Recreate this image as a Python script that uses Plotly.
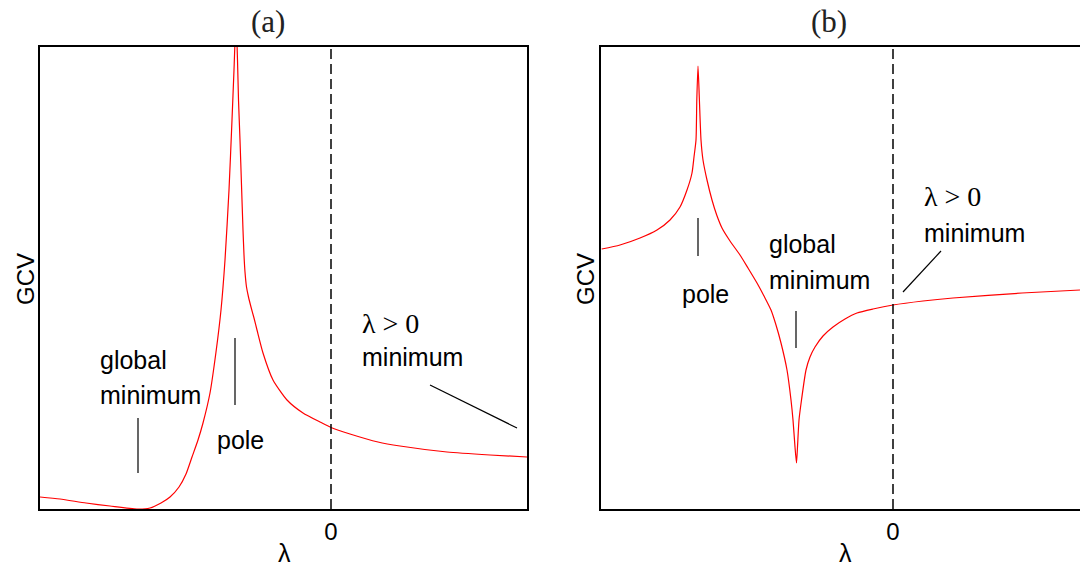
import plotly.graph_objects as go

# GCV as a function of the regularisation parameter lambda (arbitrary units)
lam_a = [-2.91, -2.71, -2.45, -2.21, -1.94, -1.81, -1.70, -1.61, -1.52, -1.45,
         -1.39, -1.33, -1.28, -1.21, -1.15, -1.10, -1.06, -1.02, -0.99, -0.97,
         -0.95, -0.935, -0.925, -0.91, -0.895, -0.88, -0.87, -0.86, -0.845, -0.825,
         -0.80, -0.77, -0.74, -0.68, -0.58, -0.44, -0.28, -0.11, 0.0, 0.19,
         0.47, 0.69, 1.16, 1.59, 1.96]
gcv_a = [0.12, 0.10, 0.06, 0.03, 0.0, 0.01, 0.06, 0.12, 0.22, 0.35,
         0.52, 0.69, 0.86, 1.16, 1.57, 1.99, 2.49, 3.19, 3.89, 4.39,
         4.90, 4.49, 4.09, 3.69, 3.24, 2.79, 2.54, 2.37, 2.22, 2.12,
         2.02, 1.91, 1.79, 1.56, 1.29, 1.09, 0.96, 0.87, 0.815, 0.75,
         0.67, 0.63, 0.57, 0.54, 0.52]

lam_b = [-2.913, -2.73, -2.53, -2.36, -2.23, -2.13, -2.06, -2.01, -1.99, -1.97,
         -1.962, -1.95, -1.936, -1.92, -1.90, -1.86, -1.81, -1.763, -1.71, -1.63,
         -1.53, -1.45, -1.36, -1.29, -1.22, -1.17, -1.12, -1.06, -1.02, -1.00,
         -0.98, -0.965, -0.955, -0.94, -0.915, -0.87, -0.83, -0.78, -0.70, -0.60,
         -0.48, -0.36, -0.20, 0.0, 0.30, 0.60, 1.29, 1.87]
gcv_b = [2.60, 2.64, 2.71, 2.79, 2.89, 3.02, 3.19, 3.36, 3.52, 3.69,
         4.09, 4.43, 4.09, 3.69, 3.49, 3.29, 3.09, 2.94, 2.81, 2.68,
         2.54, 2.41, 2.26, 2.13, 1.99, 1.84, 1.66, 1.39, 1.09, 0.89,
         0.62, 0.46, 0.62, 0.89, 1.09, 1.39, 1.52, 1.62, 1.73, 1.82,
         1.90, 1.96, 2.00, 2.04, 2.08, 2.11, 2.16, 2.19]

panel_titles = ["(a)", "(b)"]
x_ticks = [0]
x_tick_labels = ["0"]

W, H = 1080, 568
SANS = "Liberation Sans, Arial, sans-serif"
SERIF = "Liberation Serif, Times New Roman, serif"


def px(x):
    return x / W


def py(y):
    return 1 - y / H


fig = go.Figure()
fig.add_trace(go.Scatter(x=lam_a, y=gcv_a, mode="lines",
                         line=dict(color="#ff0000", width=1.2,
                                   shape="spline", smoothing=0.6),
                         xaxis="x", yaxis="y", showlegend=False))
fig.add_trace(go.Scatter(x=lam_b, y=gcv_b, mode="lines",
                         line=dict(color="#ff0000", width=1.2,
                                   shape="spline", smoothing=0.6),
                         xaxis="x2", yaxis="y2", showlegend=False))

axis_common = dict(showgrid=False, zeroline=False, linecolor="black",
                   linewidth=1.5, showline=True, ticks="")
xcommon = dict(axis_common, tickvals=x_ticks, ticktext=x_tick_labels,
               tickfont=dict(family=SANS, size=24, color="black"))
ycommon = dict(axis_common, showticklabels=False, range=[0, 4.62])

fig.update_layout(
    width=W, height=H,
    margin=dict(l=0, r=0, t=0, b=0),
    paper_bgcolor="white", plot_bgcolor="white",
    xaxis=dict(xcommon, domain=[px(40), px(527)], range=[-2.91, 1.96],
               mirror=True, anchor="y"),
    yaxis=dict(ycommon, domain=[py(509), py(47)], mirror=True, anchor="x"),
    xaxis2=dict(xcommon, domain=[px(601), 1.0], range=[-2.92, 1.87],
                mirror=True, anchor="y2"),
    yaxis2=dict(ycommon, domain=[py(509), py(47)], mirror=False, anchor="x2"),
)

# lambda = 0 reference lines
for xr, yr in (("x", "y"), ("x2", "y2")):
    fig.add_shape(type="line", xref=xr, yref=yr + " domain", x0=0, x1=0,
                  y0=0, y1=1, line=dict(color="black", width=1.5,
                                        dash="10px,5px"))

# pointer segments (lambda, GCV) for each label
pointers = [
    ("x", "y", -1.93, 0.91, -1.93, 0.36),
    ("x", "y", -0.96, 1.71, -0.96, 1.04),
    ("x", "y", 0.99, 1.24, 1.86, 0.81),
    ("x2", "y2", -1.95, 2.91, -1.95, 2.53),
    ("x2", "y2", -0.97, 1.98, -0.97, 1.61),
    ("x2", "y2", 0.48, 2.58, 0.10, 2.17),
]
for xr, yr, x0, y0, x1, y1 in pointers:
    fig.add_shape(type="line", xref=xr, yref=yr, x0=x0, y0=y0, x1=x1, y1=y1,
                  line=dict(color="black", width=1.2))

# labels placed at (lambda, GCV)
labels = [
    ("x", "y", -2.33, 1.49, "global", SANS, 25),
    ("x", "y", -2.33, 1.14, "minimum", SANS, 25),
    ("x", "y", -1.16, 0.69, "pole", SANS, 25),
    ("x", "y", 0.29, 1.86, "λ > 0", SERIF, 28),
    ("x", "y", 0.29, 1.52, "minimum", SANS, 25),
    ("x2", "y2", -2.13, 2.15, "pole", SANS, 25),
    ("x2", "y2", -1.26, 2.65, "global", SANS, 25),
    ("x2", "y2", -1.26, 2.29, "minimum", SANS, 25),
    ("x2", "y2", 0.29, 3.13, "λ > 0", SERIF, 28),
    ("x2", "y2", 0.29, 2.76, "minimum", SANS, 25),
]
for xr, yr, x, y, t, fam, size in labels:
    fig.add_annotation(x=x, y=y, xref=xr, yref=yr, text=t, showarrow=False,
                       xanchor="left", yanchor="middle",
                       font=dict(family=fam, size=size, color="black"))

# panel titles and axis titles
for cx, title in zip((268, 829), panel_titles):
    fig.add_annotation(x=px(cx), y=py(21), xref="paper", yref="paper",
                       text=title, showarrow=False, xanchor="center",
                       yanchor="middle",
                       font=dict(family=SERIF, size=31, color="#222"))
for cx in (284, 845):
    fig.add_annotation(x=px(cx), y=py(553), xref="paper", yref="paper",
                       text="λ", showarrow=False, xanchor="center",
                       yanchor="middle",
                       font=dict(family=SANS, size=25, color="black"))
for cx in (25, 585):
    fig.add_annotation(x=px(cx), y=py(279), xref="paper", yref="paper",
                       text="GCV", showarrow=False, textangle=-90,
                       xanchor="center", yanchor="middle",
                       font=dict(family=SANS, size=24, color="black"))

fig.write_html("out.html")
